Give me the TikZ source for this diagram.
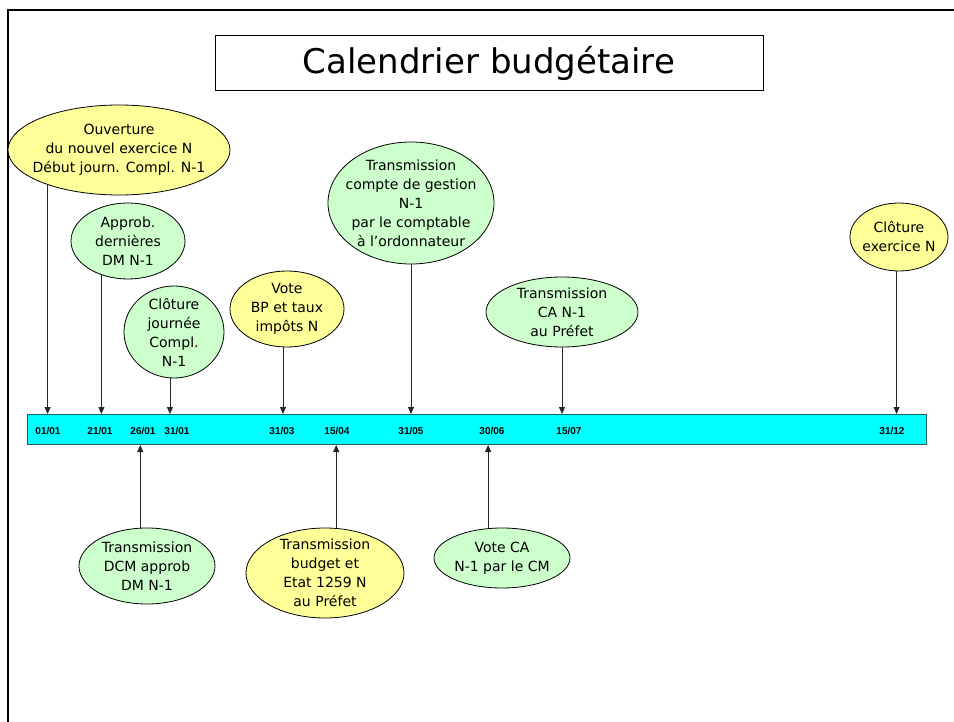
\documentclass[tikz,border=0pt]{standalone}
\usepackage{fontspec}
\setmainfont{DejaVu Sans}
\newfontfamily\datefont{Liberation Sans}
\usetikzlibrary{shapes.geometric,arrows.meta}
\definecolor{evgreen}{HTML}{CCFFCC}
\definecolor{evyellow}{HTML}{FFFF99}
\definecolor{barcyan}{HTML}{00FFFF}
\definecolor{barline}{HTML}{1F5F5F}
\begin{document}
\begin{tikzpicture}[x=1pt,y=-1pt,
  ev/.style 2 args={ellipse, draw=black, line width=0.8pt, minimum width=#1, minimum height=#2,
    inner sep=-3cm, align=center, font=\fontsize{14}{19}\selectfont},
  evg/.style={fill=evgreen},
  evy/.style={fill=evyellow},
  arr/.style={-{Triangle[length=7pt,width=6pt]}, line width=0.8pt, draw=black!85},
  datelbl/.style={font=\datefont\bfseries\fontsize{10}{12}\selectfont, inner sep=0}
]
\useasboundingbox (0,0) rectangle (954,722);
\fill[white] (0,0) rectangle (954,722);
\draw[line width=2.2pt] (8,722) -- (8,10) -- (954,10);

\node[draw, line width=1pt, minimum width=548pt, minimum height=55pt, inner sep=0,
  font=\fontsize{34}{40}\selectfont] (title) at (489,63.5) {Calendrier budgétaire};

% timeline bar
\node[draw=barline, fill=barcyan, line width=1pt, minimum width=899pt, minimum height=30pt,
  inner sep=0, anchor=north west] (bar) at (27,414) {};

\node[datelbl] (d1) at (48,431) {01/01};
\node[datelbl] (d2) at (100,431) {21/01};
\node[datelbl] (d3) at (143,431) {26/01};
\node[datelbl] (d4) at (177,431) {31/01};
\node[datelbl] (d5) at (282,431) {31/03};
\node[datelbl] (d6) at (337,431) {15/04};
\node[datelbl] (d7) at (411,431) {31/05};
\node[datelbl] (d8) at (492,431) {30/06};
\node[datelbl] (d9) at (569,431) {15/07};
\node[datelbl] (d10) at (892,431) {31/12};

% upper events
\node[ev={222pt}{90pt}, evy] (ouv) at (119,150) {Ouverture\\du nouvel exercice N\\Début journ. Compl. N-1};
\node[ev={114pt}{76pt}, evg] (appr) at (128,241) {Approb.\\dernières\\DM N-1};
\node[ev={100pt}{92pt}, evg] (clo) at (174,332) {Clôture\\journée\\Compl.\\N-1};
\node[ev={114pt}{76pt}, evy] (vote) at (287,309) {Vote\\BP et taux\\impôts N};
\node[ev={166pt}{122pt}, evg] (trans) at (411,203) {Transmission\\compte de gestion\\N-1\\par le comptable\\à l’ordonnateur};
\node[ev={152pt}{70pt}, evg] (transca) at (562,312) {Transmission\\CA N-1\\au Préfet};
\node[ev={98pt}{68pt}, evy] (cloex) at (899,237) {Clôture\\exercice N};

% lower events
\node[ev={136pt}{76pt}, evg] (dcm) at (147,566) {Transmission\\DCM approb\\DM N-1};
\node[ev={158pt}{90pt}, evy] (budget) at (325,573) {Transmission\\budget et\\Etat 1259 N\\au Préfet};
\node[ev={136pt}{60pt}, evg] (voteca) at (502,558) {Vote CA\\N-1 par le CM};

% arrows
\draw[arr] (ouv.206) -- (ouv.206 |- bar.north);
\draw[arr] (appr.232) -- (appr.232 |- bar.north);
\draw[arr] (clo.265) -- (clo.265 |- bar.north);
\draw[arr] (vote.264) -- (vote.264 |- bar.north);
\draw[arr] (trans.270) -- (trans.270 |- bar.north);
\draw[arr] (transca.270) -- (transca.270 |- bar.north);
\draw[arr] (cloex.266) -- (cloex.266 |- bar.north);

\draw[arr] (dcm.100) -- (dcm.100 |- bar.south);
\draw[arr] (budget.76) -- (budget.76 |- bar.south);
\draw[arr] (voteca.115) -- (voteca.115 |- bar.south);
\end{tikzpicture}
\end{document}
